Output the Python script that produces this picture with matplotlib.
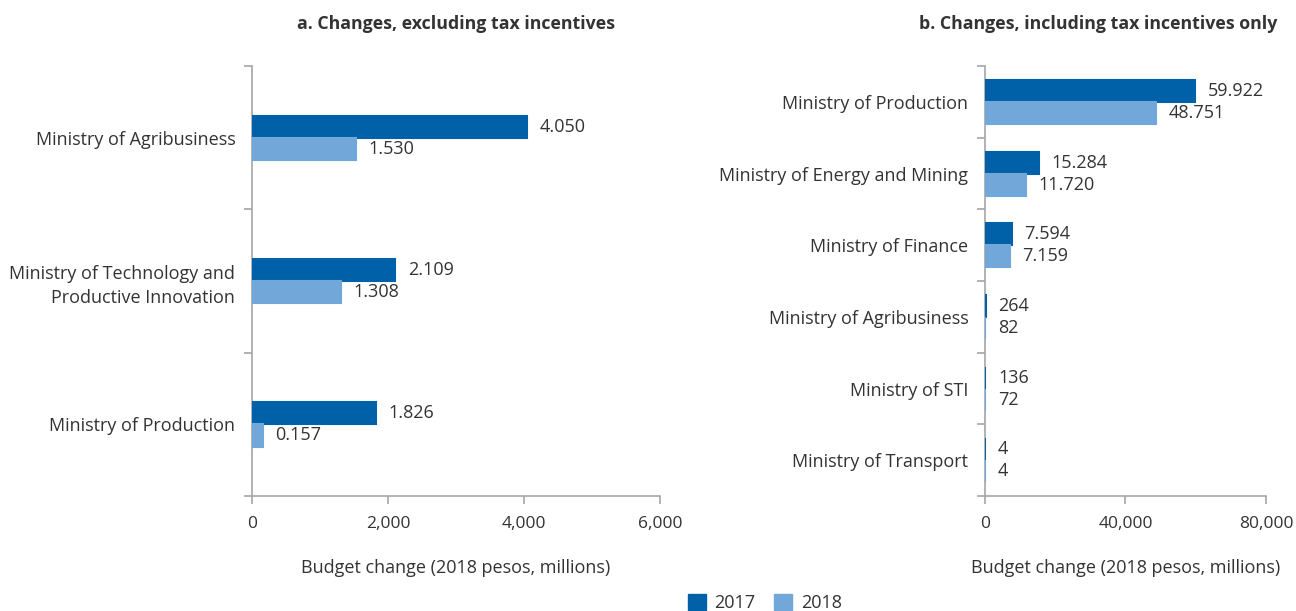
import numpy as np
import matplotlib
matplotlib.use("Agg")
import matplotlib.pyplot as plt
from matplotlib.patches import Patch
from matplotlib.ticker import FuncFormatter, FixedLocator

plt.rcParams['font.family'] = ['Open Sans', 'DejaVu Sans']

# panel a data
cats_a = ["Ministry of Agribusiness",
          "Ministry of Technology and\nProductive Innovation",
          "Ministry of Production"]
a_2017 = [4050, 2109, 1826]
a_2018 = [1530, 1308, 157]
a_lab17 = ["4.050", "2.109", "1.826"]
a_lab18 = ["1.530", "1.308", "0.157"]

# panel b data
cats_b = ["Ministry of Production", "Ministry of Energy and Mining",
          "Ministry of Finance", "Ministry of Agribusiness",
          "Ministry of STI", "Ministry of Transport"]
b_2017 = [59922, 15284, 7594, 264, 136, 4]
b_2018 = [48751, 11720, 7159, 82, 72, 4]
b_lab17 = ["59.922", "15.284", "7.594", "264", "136", "4"]
b_lab18 = ["48.751", "11.720", "7.159", "82", "72", "4"]

C17 = "#0061a9"
C18 = "#72a8d9"
TXT = "#333333"
GRID = "#a6a6a6"
FS = 13

fig = plt.figure(figsize=(12.96, 6.11), dpi=100)
ax1 = fig.add_axes([0.1944, 0.188, 0.3148, 0.704])
ax2 = fig.add_axes([0.7600, 0.188, 0.2168, 0.704])


def draw(ax, cats, v17, v18, l17, l18, bh, xmax, xticks):
    n = len(cats)
    y = np.arange(n)
    # thin edge keeps tiny values visible, as in the original
    ax.barh(y - bh / 2, v17, height=bh, color=C17, edgecolor=C17,
            linewidth=1.5, zorder=3)
    ax.barh(y + bh / 2, v18, height=bh, color=C18, edgecolor=C18,
            linewidth=1.5, zorder=3)
    for i in range(n):
        ax.annotate(l17[i], (v17[i], y[i] - bh / 2), xytext=(9, 0),
                    textcoords="offset points", va="center", ha="left",
                    fontsize=FS, color=TXT)
        ax.annotate(l18[i], (v18[i], y[i] + bh / 2), xytext=(9, 0),
                    textcoords="offset points", va="center", ha="left",
                    fontsize=FS, color=TXT)
    ax.set_ylim(n - 0.5, -0.5)
    ax.set_xlim(0, xmax)
    ax.set_yticks(y)
    ax.set_yticklabels(cats, fontsize=FS, color=TXT, linespacing=1.4)
    ax.yaxis.set_minor_locator(FixedLocator(np.arange(-0.5, n, 1.0)))
    ax.tick_params(axis="y", which="major", length=0, pad=12)
    ax.tick_params(axis="y", which="minor", length=6, color=GRID, width=1.2)
    ax.set_xticks(xticks)
    ax.xaxis.set_major_formatter(FuncFormatter(lambda v, p: f"{v:,.0f}"))
    ax.tick_params(axis="x", length=6, color=GRID, width=1.2, labelsize=12.5,
                   labelcolor=TXT, pad=8)
    for s in ["top", "right"]:
        ax.spines[s].set_visible(False)
    for s in ["left", "bottom"]:
        ax.spines[s].set_color(GRID)
        ax.spines[s].set_linewidth(1.2)
        ax.spines[s].set_zorder(1)
    ax.set_xlabel("Budget change (2018 pesos, millions)", fontsize=FS,
                  color=TXT, labelpad=20)


draw(ax1, cats_a, a_2017, a_2018, a_lab17, a_lab18, 0.154, 6000,
     [0, 2000, 4000, 6000])
draw(ax2, cats_b, b_2017, b_2018, b_lab17, b_lab18, 0.307, 80000,
     [0, 40000, 80000])

fig.text(0.352, 0.96, "a. Changes, excluding tax incentives",
         ha="center", va="center", fontsize=12.8, fontweight="bold", color=TXT)
fig.text(0.986, 0.96, "b. Changes, including tax incentives only",
         ha="right", va="center", fontsize=12.8, fontweight="bold", color=TXT)

handles = [Patch(color=C17, label="2017"), Patch(color=C18, label="2018")]
fig.legend(handles=handles, loc="center", bbox_to_anchor=(0.59, 0.013),
           ncol=2, frameon=False, fontsize=FS, handlelength=1.0,
           handleheight=1.0, columnspacing=1.0, handletextpad=0.5,
           labelcolor=TXT)

fig.savefig("out.png", dpi=100)
